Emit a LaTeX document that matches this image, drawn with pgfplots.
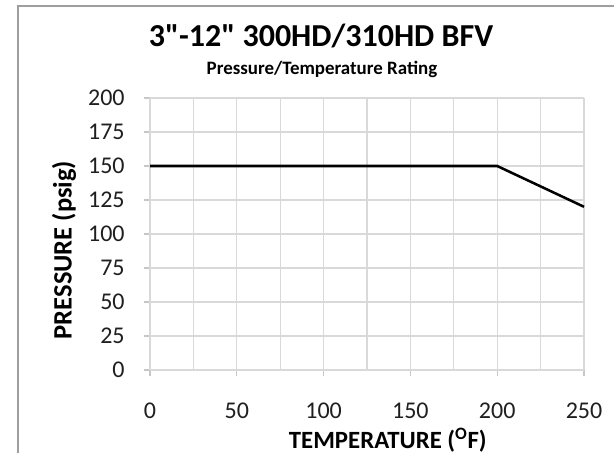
\documentclass[border=0pt]{standalone}
\usepackage{fontspec}
\setmainfont{Carlito}
\newfontfamily\plainfont{Carlito}[Ligatures=TeXOff]
\usepackage{pgfplots}
\pgfplotsset{compat=1.18}
\begin{document}
\begin{tikzpicture}[x=0.75pt,y=0.75pt]
\useasboundingbox (0,0) rectangle (614,453);
\fill[white] (0,0) rectangle (614,453);
\draw[black!38,line width=1pt] (18,0) -- (18,447) -- (614,447);
\begin{axis}[
  at={(150*0.75pt,83*0.75pt)}, anchor=south west,
  scale only axis, width=325.5pt, height=204pt,
  xmin=0, xmax=250, ymin=0, ymax=200,
  xtick={0,50,...,250}, minor xtick={25,75,...,225},
  ytick={0,25,...,200},
  grid=both,
  major grid style={draw=black!15, line width=0.8pt},
  minor grid style={draw=black!15, line width=0.8pt},
  axis line style={draw=black!15, line width=0.8pt},
  axis x line*=bottom, axis y line*=left,
  tick style={draw=black!22, line width=0.8pt},
  major tick length=6*0.75pt, minor tick length=0pt,
  tick align=outside,
  xtick pos=bottom, ytick pos=left,
  /pgf/number format/assume math mode=true,
  ticklabel style={font=\fontsize{18}{20}\selectfont, text=black!88},
  xticklabel style={yshift=-16.5pt},
  yticklabel style={xshift=-11pt},
  xlabel={\textbf{TEMPERATURE (\textsuperscript{O}F)}},
  ylabel={\textbf{PRESSURE (psig)}},
  xlabel style={font=\fontsize{18.6}{21}\selectfont, at={(axis description cs:0.548,-0.258)}, anchor=center},
  ylabel style={font=\fontsize{19.9}{22}\selectfont, at={(axis description cs:-0.198,0.441)}, anchor=center},
  clip=false,
]
\addplot[black, line width=1.9pt] coordinates {(0,150) (200,150) (250,120)};
\end{axis}
\node[font=\plainfont\bfseries\fontsize{24}{27}\selectfont, anchor=base] at (321,406) {3"-12" 300HD/310HD BFV};
\node[font=\bfseries\fontsize{14.2}{16}\selectfont, anchor=base] at (322,378) {Pressure/Temperature Rating};
\end{tikzpicture}
\end{document}
